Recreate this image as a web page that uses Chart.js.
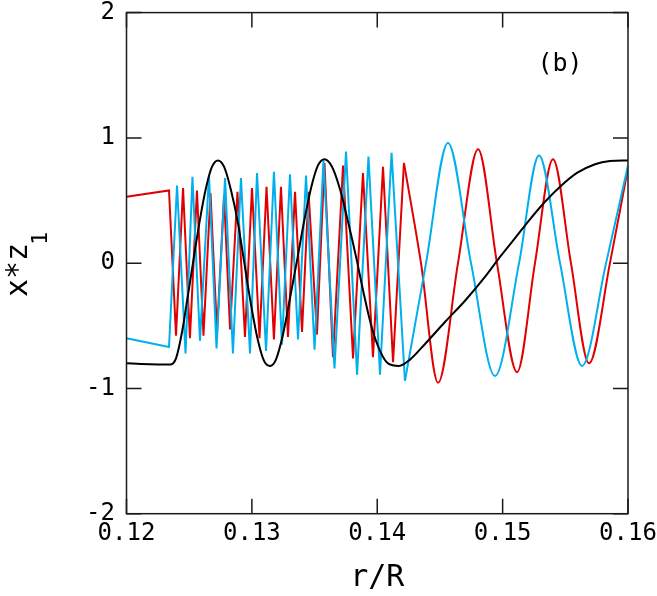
<!DOCTYPE html>
<html>
<head>
<meta charset="utf-8">
<script src="https://cdn.jsdelivr.net/npm/chart.js@4.4.1/dist/chart.umd.min.js"></script>
<style>
  html, body { margin: 0; padding: 0; background: #fff; }
  #wrap { width: 657px; height: 596px; position: relative; }
</style>
</head>
<body>
<div id="wrap"><canvas id="c"></canvas></div>
<script>
// ---- data ----
const xTicks = [0.12, 0.13, 0.14, 0.15, 0.16];
const yTicks = [-2, -1, 0, 1, 2];

// black curve
const blackX = [0.12, 0.12347, 0.12395, 0.12443, 0.12491, 0.12538, 0.12586, 0.12634, 0.12682, 0.1273,
  0.12778, 0.12834, 0.12889, 0.12937, 0.12993, 0.13049, 0.13097, 0.13145, 0.13192, 0.13248,
  0.13304, 0.1336, 0.13416, 0.13472, 0.13527, 0.13579, 0.13639, 0.13703, 0.13767, 0.13831,
  0.13894, 0.13958, 0.14022, 0.14086, 0.14174, 0.14261, 0.14381, 0.1454, 0.147, 0.14859,
  0.14979, 0.15099, 0.15218, 0.15338, 0.15458, 0.15593, 0.15737, 0.15856, 0.16];
const blackY = [-0.80, -0.81, -0.76, -0.55, -0.25, 0.05, 0.35, 0.60, 0.77, 0.82,
  0.77, 0.58, 0.32, 0.02, -0.33, -0.62, -0.78, -0.82, -0.77, -0.57,
  -0.28, 0.02, 0.33, 0.60, 0.78, 0.83, 0.77, 0.59, 0.33, 0.05,
  -0.25, -0.52, -0.70, -0.80, -0.82, -0.77, -0.645, -0.47, -0.30, -0.11,
  0.05, 0.20, 0.35, 0.49, 0.61, 0.72, 0.79, 0.815, 0.82];

// red curve: jagged (sparse) part and smooth part
const redFastX = [0.12, 0.12339, 0.12395, 0.12451, 0.12506, 0.12562, 0.12614, 0.1267, 0.12722, 0.12778,
  0.12826, 0.12885, 0.12945, 0.13001, 0.13061, 0.13117, 0.13176, 0.13232, 0.13288, 0.13344,
  0.134, 0.13452, 0.13519, 0.13579, 0.13647, 0.13727, 0.13807, 0.13886, 0.13966, 0.14046,
  0.14126, 0.14213];
const redFastY = [0.53, 0.58, -0.58, 0.60, -0.60, 0.58, -0.58, 0.56, -0.55, 0.54,
  -0.53, 0.57, -0.59, 0.60, -0.60, 0.61, -0.61, 0.61, -0.59, 0.57,
  -0.55, 0.57, -0.57, 0.80, -0.75, 0.78, -0.76, 0.72, -0.75, 0.77,
  -0.79, 0.80];
const redSlowX = [0.14213, 0.14349, 0.14485, 0.14644, 0.14804, 0.14955, 0.15115, 0.15258, 0.15402, 0.15545, 0.15689, 0.15856, 0.16];
const redSlowY = [0.80, 0.0, -0.955, 0.0, 0.91, 0.0, -0.87, 0.0, 0.83, 0.0, -0.80, 0.0, 0.76];

// cyan curve: jagged part and smooth part
const cyanFastX = [0.12, 0.12339, 0.12403, 0.12471, 0.12526, 0.12586, 0.12658, 0.12718, 0.12786, 0.12849,
  0.12913, 0.12985, 0.13041, 0.13113, 0.13176, 0.1324, 0.13304, 0.13368, 0.13432, 0.135,
  0.13571, 0.13659, 0.13751, 0.13839, 0.1393, 0.14022, 0.14114, 0.14221];
const cyanFastY = [-0.60, -0.67, 0.62, -0.72, 0.69, -0.62, 0.70, -0.68, 0.68, -0.72,
  0.68, -0.72, 0.72, -0.70, 0.73, -0.65, 0.71, -0.61, 0.70, -0.69,
  0.82, -0.84, 0.89, -0.89, 0.85, -0.89, 0.88, -0.94];
const cyanSlowX = [0.14221, 0.14389, 0.14564, 0.14748, 0.14939, 0.15131, 0.1529, 0.15458, 0.15633, 0.15825, 0.16];
const cyanSlowY = [-0.94, 0.0, 0.96, 0.0, -0.90, 0.0, 0.86, 0.0, -0.82, 0.0, 0.78];

const panelLabel = '(b)';
const xTitle = 'r/R';
const yTitleMain = 'x*z';
const yTitleSub = '1';

// ---- build ----
const pts = (xs, ys) => xs.map((v, i) => ({ x: v, y: ys[i] }));
const RED = 'rgb(224,0,0)';
const CYAN = 'rgb(0,176,236)';
const FONT = '"DejaVu Sans Mono", monospace';

Chart.defaults.font.family = FONT;
Chart.defaults.color = '#000';

const framePlugin = {
  id: 'frame',
  afterDatasetsDraw(chart) {
    const { ctx, chartArea: a, scales: { x, y } } = chart;
    ctx.save();
    ctx.strokeStyle = '#1a1a1a';
    ctx.lineWidth = 1.5;
    ctx.strokeRect(a.left, a.top, a.right - a.left, a.bottom - a.top);
    ctx.beginPath();
    const L = 15;
    x.ticks.forEach(t => {
      const p = x.getPixelForValue(t.value);
      ctx.moveTo(p, a.bottom); ctx.lineTo(p, a.bottom - L);
      ctx.moveTo(p, a.top); ctx.lineTo(p, a.top + L);
    });
    y.ticks.forEach(t => {
      const p = y.getPixelForValue(t.value);
      ctx.moveTo(a.left, p); ctx.lineTo(a.left + L, p);
      ctx.moveTo(a.right, p); ctx.lineTo(a.right - L, p);
    });
    ctx.stroke();

    // panel label
    ctx.fillStyle = '#000';
    ctx.font = '25px ' + FONT;
    ctx.textAlign = 'center';
    ctx.textBaseline = 'middle';
    ctx.fillText(panelLabel, 560, 64);

    // y title with subscript
    ctx.translate(27, 270);
    ctx.rotate(-Math.PI / 2);
    ctx.textBaseline = 'alphabetic';
    ctx.textAlign = 'center';
    ctx.font = '30px ' + FONT;
    ctx.fillText(yTitleMain, 0, 0);
    ctx.font = '22px ' + FONT;
    ctx.fillText(yTitleSub, 31.5, 20);
    ctx.restore();
  }
};

const lineDs = (data, color, mode) => ({
  data, borderColor: color, borderWidth: 2, pointRadius: 0, fill: false,
  tension: 0, cubicInterpolationMode: mode
});

new Chart(document.getElementById('c'), {
  type: 'line',
  data: {
    datasets: [
      lineDs(pts(blackX, blackY), '#000', 'monotone'),
      lineDs(pts(cyanFastX, cyanFastY), CYAN, 'default'),
      lineDs(pts(cyanSlowX, cyanSlowY), CYAN, 'monotone'),
      lineDs(pts(redFastX, redFastY), RED, 'default'),
      lineDs(pts(redSlowX, redSlowY), RED, 'monotone')
    ]
  },
  options: {
    responsive: true,
    maintainAspectRatio: false,
    animation: false,
    layout: { padding: { top: 12.6, right: 29, bottom: 0, left: 0 } },
    plugins: { legend: { display: false }, tooltip: { enabled: false } },
    scales: {
      x: {
        type: 'linear', min: 0.12, max: 0.16,
        afterBuildTicks: s => { s.ticks = xTicks.map(v => ({ value: v })); },
        afterFit: s => { s.height = 82.3; s.paddingLeft = 0; s.paddingRight = 0; },
        ticks: { font: { size: 24 }, color: '#000', padding: 6, maxRotation: 0, autoSkip: false,
          callback: v => v.toFixed(2) },
        grid: { display: false, drawTicks: false },
        border: { display: false },
        title: { display: true, text: xTitle, font: { size: 30 }, color: '#000', padding: { top: 0, bottom: 0 } }
      },
      y: {
        type: 'linear', min: -2, max: 2,
        afterBuildTicks: s => { s.ticks = yTicks.map(v => ({ value: v })); },
        afterFit: s => { s.width = 126.5; s.paddingTop = 0; s.paddingBottom = 0; },
        ticks: { font: { size: 24 }, color: '#000', padding: 11.5, autoSkip: false,
          callback: v => String(v) },
        grid: { display: false, drawTicks: false },
        border: { display: false }
      }
    }
  },
  plugins: [framePlugin]
});
</script>
</body>
</html>
